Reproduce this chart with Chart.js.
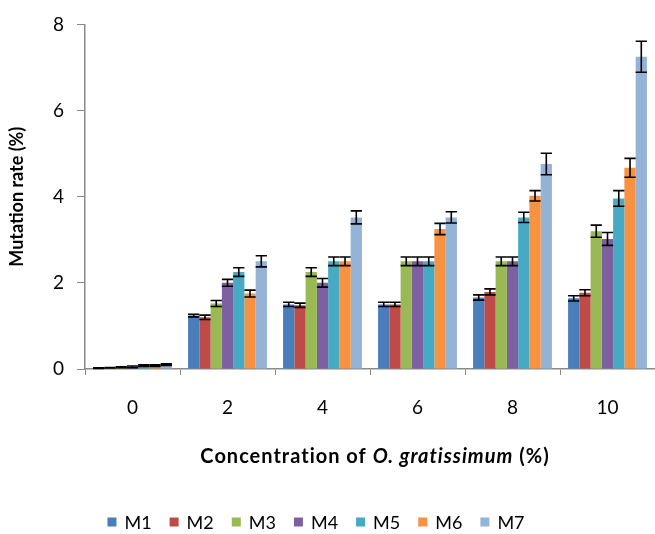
<!DOCTYPE html>
<html>
<head>
<meta charset="utf-8">
<script src="https://cdn.jsdelivr.net/npm/chart.js@4/dist/chart.umd.min.js"></script>
<style>
  html, body { margin: 0; padding: 0; background: #fff; }
  #wrap { width: 655px; height: 534px; }
</style>
</head>
<body>
<div id="wrap"><canvas id="mutChart" width="655" height="534"></canvas></div>
<script>
const categories = ["0", "2", "4", "6", "8", "10"];
const seriesNames = ["M1", "M2", "M3", "M4", "M5", "M6", "M7"];
const yTicks = [0, 2, 4, 6, 8];

const m1 = [0.02, 1.24, 1.5, 1.5, 1.66, 1.64];
const m2 = [0.03, 1.2, 1.48, 1.5, 1.79, 1.77];
const m3 = [0.04, 1.52, 2.25, 2.5, 2.5, 3.2];
const m4 = [0.05, 2.0, 2.0, 2.5, 2.5, 3.02];
const m5 = [0.08, 2.25, 2.5, 2.5, 3.52, 3.96];
const m6 = [0.08, 1.75, 2.5, 3.25, 4.02, 4.67];
const m7 = [0.1, 2.5, 3.52, 3.52, 4.76, 7.25];

const m1Err = [0.005, 0.03, 0.05, 0.05, 0.06, 0.06];
const m2Err = [0.005, 0.05, 0.05, 0.05, 0.07, 0.07];
const m3Err = [0.01, 0.07, 0.1, 0.1, 0.1, 0.14];
const m4Err = [0.02, 0.08, 0.1, 0.1, 0.1, 0.15];
const m5Err = [0.02, 0.1, 0.1, 0.1, 0.12, 0.18];
const m6Err = [0.02, 0.08, 0.1, 0.13, 0.12, 0.22];
const m7Err = [0.02, 0.13, 0.15, 0.13, 0.25, 0.36];

const allValues = [m1, m2, m3, m4, m5, m6, m7];
const allErrors = [m1Err, m2Err, m3Err, m4Err, m5Err, m6Err, m7Err];
const colors = ["#4a7ebb", "#be4b48", "#98b954", "#7d60a0", "#46aac5", "#f69240", "#95b3d7"];

const FONT = "Lato, 'Open Sans', sans-serif";
const AXIS_GREY = "#8a8a8a";

// error bars, drawn on top of the bars using the bar elements and y scale
const errorBars = {
  id: "errorBars",
  afterDatasetsDraw(chart) {
    const ctx = chart.ctx;
    const y = chart.scales.y;
    ctx.save();
    ctx.strokeStyle = "#000";
    ctx.lineWidth = 1.6;
    chart.data.datasets.forEach((ds, i) => {
      const meta = chart.getDatasetMeta(i);
      meta.data.forEach((bar, j) => {
        const v = ds.data[j];
        const e = allErrors[i][j];
        const top = y.getPixelForValue(v + e);
        const bot = y.getPixelForValue(v - e);
        const half = bar.width / 2;
        ctx.beginPath();
        ctx.moveTo(bar.x, top);
        ctx.lineTo(bar.x, bot);
        ctx.moveTo(bar.x - half, top);
        ctx.lineTo(bar.x + half, top);
        ctx.moveTo(bar.x - half, bot);
        ctx.lineTo(bar.x + half, bot);
        ctx.stroke();
      });
    });
    ctx.restore();
  }
};

// x title with italic species name + legend row at the bottom
const bottomText = {
  id: "bottomText",
  afterDraw(chart) {
    const ctx = chart.ctx;
    const area = chart.chartArea;
    ctx.save();
    ctx.fillStyle = "#000";
    ctx.textBaseline = "middle";
    ctx.letterSpacing = "1px";

    const parts = [
      { t: "Concentration of ", f: "bold 20px " + FONT },
      { t: "O. gratissimum", f: "italic bold 20px " + FONT },
      { t: " (%)", f: "bold 20px " + FONT }
    ];
    let total = 0;
    parts.forEach(p => { ctx.font = p.f; p.w = ctx.measureText(p.t).width; total += p.w; });
    let x = 375 - total / 2;
    parts.forEach(p => {
      ctx.font = p.f;
      ctx.textAlign = "left";
      ctx.fillText(p.t, x, 457);
      x += p.w;
    });
    ctx.letterSpacing = "0px";

    // legend
    ctx.font = "18px " + FONT;
    const box = 9;
    const gap = 8;
    const space = 18;
    let widths = seriesNames.map(n => box + gap + ctx.measureText(n).width);
    let legendW = widths.reduce((a, b) => a + b, 0) + space * (seriesNames.length - 1);
    let lx = 316 - legendW / 2;
    const ly = 522;
    seriesNames.forEach((n, i) => {
      ctx.fillStyle = colors[i];
      ctx.fillRect(lx, ly - box / 2, box, box);
      ctx.fillStyle = "#000";
      ctx.fillText(n, lx + box + gap, ly + 1);
      lx += widths[i] + space;
    });
    ctx.restore();
  }
};

const datasets = seriesNames.map((name, i) => ({
  label: name,
  data: allValues[i],
  backgroundColor: colors[i],
  borderWidth: 0,
  categoryPercentage: 0.83,
  barPercentage: 1.0
}));

new Chart(document.getElementById("mutChart").getContext("2d"), {
  type: "bar",
  data: { labels: categories, datasets: datasets },
  options: {
    responsive: false,
    animation: false,
    layout: { padding: { top: 22, left: 0, right: 0, bottom: 0 } },
    plugins: {
      legend: { display: false },
      tooltip: { enabled: false }
    },
    scales: {
      x: {
        grid: { display: true, drawOnChartArea: false, offset: true, color: AXIS_GREY, tickLength: 6 },
        border: { color: AXIS_GREY, width: 1.5 },
        ticks: { color: "#000", font: { family: FONT, size: 19 }, padding: 21 },
        afterFit(scale) { scale.height = 165; }
      },
      y: {
        min: 0,
        max: 8,
        afterBuildTicks(scale) { scale.ticks = yTicks.map(v => ({ value: v })); },
        grid: { display: true, drawOnChartArea: false, color: AXIS_GREY, tickLength: 8 },
        border: { color: AXIS_GREY, width: 1.5 },
        ticks: { color: "#000", font: { family: FONT, size: 19 }, padding: 13 },
        title: {
          display: true,
          text: "Mutation rate (%)",
          color: "#000",
          font: { family: FONT, size: 18, weight: "bold" },
          padding: { top: 6, bottom: 4 }
        },
        afterFit(scale) { scale.width = 85; }
      }
    }
  },
  plugins: [errorBars, bottomText]
});
</script>
</body>
</html>
